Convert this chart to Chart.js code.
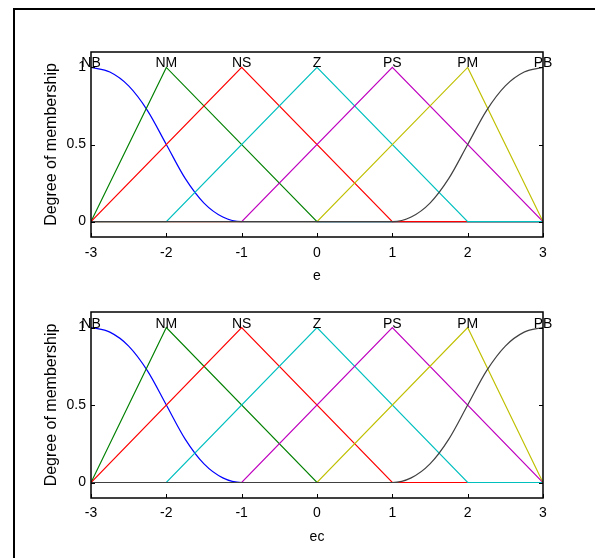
<!DOCTYPE html>
<html>
<head>
<meta charset="utf-8">
<script src="https://cdn.jsdelivr.net/npm/chart.js@4.4.1/dist/chart.umd.min.js"></script>
<style>
  body { margin: 0; background: #fff; }
  #wrap { position: relative; width: 595px; height: 558px; overflow: hidden; }
  #frame { position: absolute; left: 13px; top: 8px; width: 700px; height: 700px; border: 2px solid #000; }
  .plot { position: absolute; left: 0; width: 595px; }
</style>
</head>
<body>
<div id="wrap">
  <div id="frame"></div>
  <div class="plot" style="top:0;height:290px"><canvas id="chartE" width="595" height="290"></canvas></div>
  <div class="plot" style="top:260px;height:298px"><canvas id="chartEC" width="595" height="298"></canvas></div>
</div>
<script>
const xTicks = [-3, -2, -1, 0, 1, 2, 3];
const yTicks = [0, 0.5, 1];
const mfNames = ['NB', 'NM', 'NS', 'Z', 'PS', 'PM', 'PB'];
const mfPeaks = [-3, -2, -1, 0, 1, 2, 3];
const mfColors = ['rgb(0,0,255)', 'rgb(0,128,0)', 'rgb(255,0,0)', 'rgb(0,191,191)',
                  'rgb(191,0,191)', 'rgb(191,191,0)', 'rgb(64,64,64)'];

// membership curves
const nbX = [-3, -2.75, -2.5, -2.25, -2, -1.75, -1.5, -1.25, -1, 3];
const nbY = [1, 0.97, 0.88, 0.72, 0.5, 0.28, 0.12, 0.03, 0, 0];
const nmX = [-3, -2, 0, 3];
const nmY = [0, 1, 0, 0];
const nsX = [-3, -1, 1, 3];
const nsY = [0, 1, 0, 0];
const zX = [-3, -2, 0, 2, 3];
const zY = [0, 0, 1, 0, 0];
const psX = [-3, -1, 1, 3];
const psY = [0, 0, 1, 0];
const pmX = [-3, 0, 2, 3];
const pmY = [0, 0, 1, 0];
const pbX = [-3, 1, 1.25, 1.5, 1.75, 2, 2.25, 2.5, 2.75, 3];
const pbY = [0, 0, 0.03, 0.12, 0.28, 0.5, 0.72, 0.88, 0.97, 1];

const curvesX = [nbX, nmX, nsX, zX, psX, pmX, pbX];
const curvesY = [nbY, nmY, nsY, zY, psY, pmY, pbY];
const smooth = [true, false, false, false, false, false, true];

const textFont = { family: "'Liberation Sans', Arial, sans-serif", size: 14 };
const titleFont = { family: "'Liberation Sans', Arial, sans-serif", size: 16 };

const mfDecor = {
    id: 'mfDecor',
    afterDatasetsDraw(chart) {
        const ctx = chart.ctx;
        const a = chart.chartArea;
        const x = chart.scales.x, y = chart.scales.y;
        ctx.save();
        ctx.strokeStyle = '#000';
        ctx.lineWidth = 1.5;
        ctx.strokeRect(a.left, a.top, a.right - a.left, a.bottom - a.top);
        ctx.lineWidth = 1;
        ctx.beginPath();
        xTicks.forEach(function (v) {
            const px = Math.round(x.getPixelForValue(v)) + 0.5;
            ctx.moveTo(px, a.bottom);
            ctx.lineTo(px, a.bottom - 4);
        });
        yTicks.forEach(function (v) {
            const py = Math.round(y.getPixelForValue(v)) + 0.5;
            ctx.moveTo(a.left, py);
            ctx.lineTo(a.left + 4, py);
            ctx.moveTo(a.right, py);
            ctx.lineTo(a.right - 4, py);
        });
        ctx.stroke();
        ctx.fillStyle = '#000';
        ctx.font = textFont.size + 'px ' + textFont.family;
        ctx.textAlign = 'center';
        ctx.textBaseline = 'alphabetic';
        mfNames.forEach(function (n, i) {
            ctx.fillText(n, x.getPixelForValue(mfPeaks[i]), y.getPixelForValue(1));
        });
        ctx.restore();
    }
};

function makeChart(id, xTitle, padBottom, tickPad) {
    const datasets = mfNames.map(function (n, i) {
        return {
            label: n,
            data: curvesX[i].map(function (v, k) { return { x: v, y: curvesY[i][k] }; }),
            borderColor: mfColors[i],
            backgroundColor: mfColors[i],
            borderWidth: 1.2,
            pointRadius: 0,
            fill: false,
            cubicInterpolationMode: smooth[i] ? 'monotone' : 'default',
            order: mfNames.length - i
        };
    });
    return new Chart(document.getElementById(id), {
        type: 'line',
        data: { datasets },
        options: {
            responsive: false,
            animation: false,
            layout: { padding: { left: 0, top: 52, right: 52, bottom: padBottom } },
            plugins: { legend: { display: false }, tooltip: { enabled: false } },
            scales: {
                x: {
                    type: 'linear',
                    min: -3,
                    max: 3,
                    grid: { display: false, drawTicks: false },
                    border: { display: false },
                    afterBuildTicks: function (s) { s.ticks = xTicks.map(function (v) { return { value: v }; }); },
                    afterFit: function (s) { s.height = 48; },
                    ticks: { autoSkip: false, maxRotation: 0, padding: tickPad, color: '#000', font: textFont,
                             callback: function (v) { return String(v); } },
                    title: { display: true, text: xTitle, color: '#000', padding: { top: 0, bottom: 0 }, font: textFont }
                },
                y: {
                    min: -0.1,
                    max: 1.1,
                    grid: { display: false, drawTicks: false },
                    border: { display: false },
                    afterBuildTicks: function (s) { s.ticks = yTicks.map(function (v) { return { value: v }; }); },
                    afterFit: function (s) { s.width = 91; },
                    ticks: { autoSkip: false, padding: 5, color: '#000', font: textFont,
                             callback: function (v) { return String(v); } },
                    title: { display: true, text: 'Degree of membership', color: '#000', padding: { top: 42, bottom: 0 }, font: titleFont }
                }
            }
        },
        plugins: [mfDecor]
    });
}

makeChart('chartE', 'e', 5, 8);
makeChart('chartEC', 'ec', 12, 7);
</script>
</body>
</html>
